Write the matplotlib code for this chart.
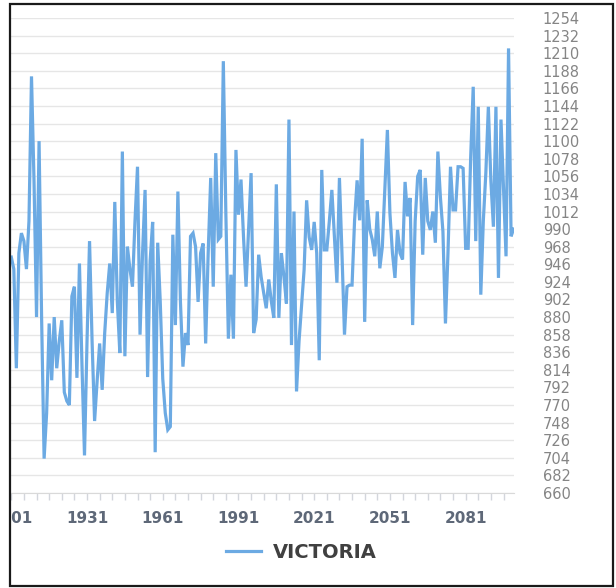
import matplotlib.pyplot as plt
from matplotlib.patches import Rectangle

# annual series, 1901-2100
years = list(range(1901, 2101))
victoria = [
    955, 940, 816, 960, 985, 975, 940, 1000, 1181, 1050,
    880, 1100, 880, 703, 760, 872, 801, 880, 816, 850,
    876, 786, 775, 770, 906, 918, 804, 947, 820, 707,
    850, 975, 850, 750, 800, 847, 789, 860, 910, 947,
    885, 1024, 900, 835, 1087, 831, 968, 940, 918, 1000,
    1068, 858, 960, 1039, 805, 950, 999, 711, 973, 900,
    803, 760, 739, 743, 983, 870, 1037, 900, 818, 860,
    845, 981, 985, 968, 899, 960, 972, 847, 960, 1054,
    918, 1085, 977, 981, 1200, 1010, 853, 933, 853, 1089,
    1008, 1052, 980, 918, 990, 1060, 860, 877, 958, 930,
    910, 891, 927, 900, 879, 1046, 879, 960, 931, 897,
    1127, 845, 1012, 787, 850, 895, 939, 1026, 980, 964,
    999, 960, 826, 1064, 964, 964, 1000, 1039, 980, 923,
    1054, 960, 858, 918, 920, 920, 1001, 1051, 1001, 1103,
    874, 1026, 990, 977, 956, 1012, 941, 968, 1040, 1114,
    1010, 960, 929, 989, 960, 952, 1049, 1006, 1029, 870,
    1000, 1056, 1064, 958, 1054, 1000, 989, 1012, 973, 1087,
    1030, 987, 872, 960, 1068, 1014, 1014, 1068, 1068, 1066,
    966, 966, 1080, 1168, 975, 1143, 908, 1000, 1060, 1143,
    1050, 993, 1143, 929, 1127, 1040, 956, 1216, 981, 990,
]
label_years = list(range(1901, 2082, 30))
minor_years = list(range(1901, 2097, 5))
y_ticks = list(range(660, 1255, 22))

W, H = 616, 588
fig = plt.figure(figsize=(W / 100, H / 100), dpi=100)
ax = fig.add_axes([11.3 / W, 95 / H, 502.3 / W, 475 / H])

ax.plot(years, victoria, color='#6caae3', linewidth=2.3, label='VICTORIA',
        solid_joinstyle='miter')

ax.set_xlim(1901, 2100)
ax.set_ylim(660, 1254)

ax.set_yticks(y_ticks)
ax.yaxis.tick_right()
ax.tick_params(axis='y', length=0, pad=21, labelsize=10.5, labelcolor='#858585')
ax.grid(axis='y', color='#e6e6e6', linewidth=1)
ax.set_axisbelow(True)

ax.set_xticks(label_years)
ax.set_xticks(minor_years, minor=True)
ax.tick_params(axis='x', which='both', length=5, width=1, color='#d3d6dc',
               direction='out')
ax.tick_params(axis='x', which='major', pad=8, labelsize=11, labelcolor='#5e6878')
for lbl in ax.get_xticklabels():
    lbl.set_fontweight('bold')

for side in ['top', 'left', 'right']:
    ax.spines[side].set_visible(False)
ax.spines['bottom'].set_color('#d9d9d9')

leg = fig.legend(loc='center', bbox_to_anchor=(0.489, 36 / H), frameon=False,
                 handlelength=1.8, handletextpad=0.6,
                 prop={'size': 14, 'weight': 'bold'})
for t in leg.get_texts():
    t.set_color('#404040')

# white margin hides the cut-off part of the first label, then the frame
fig.add_artist(Rectangle((0, 0), 10 / W, 1, transform=fig.transFigure,
                         facecolor='white', edgecolor='none', zorder=10))
fig.add_artist(Rectangle((10 / W, 2 / H), 603 / W, 582 / H, transform=fig.transFigure,
                         facecolor='none', edgecolor='#1a1a1a', linewidth=1.6, zorder=11))

plt.savefig('out.png', dpi=100)
